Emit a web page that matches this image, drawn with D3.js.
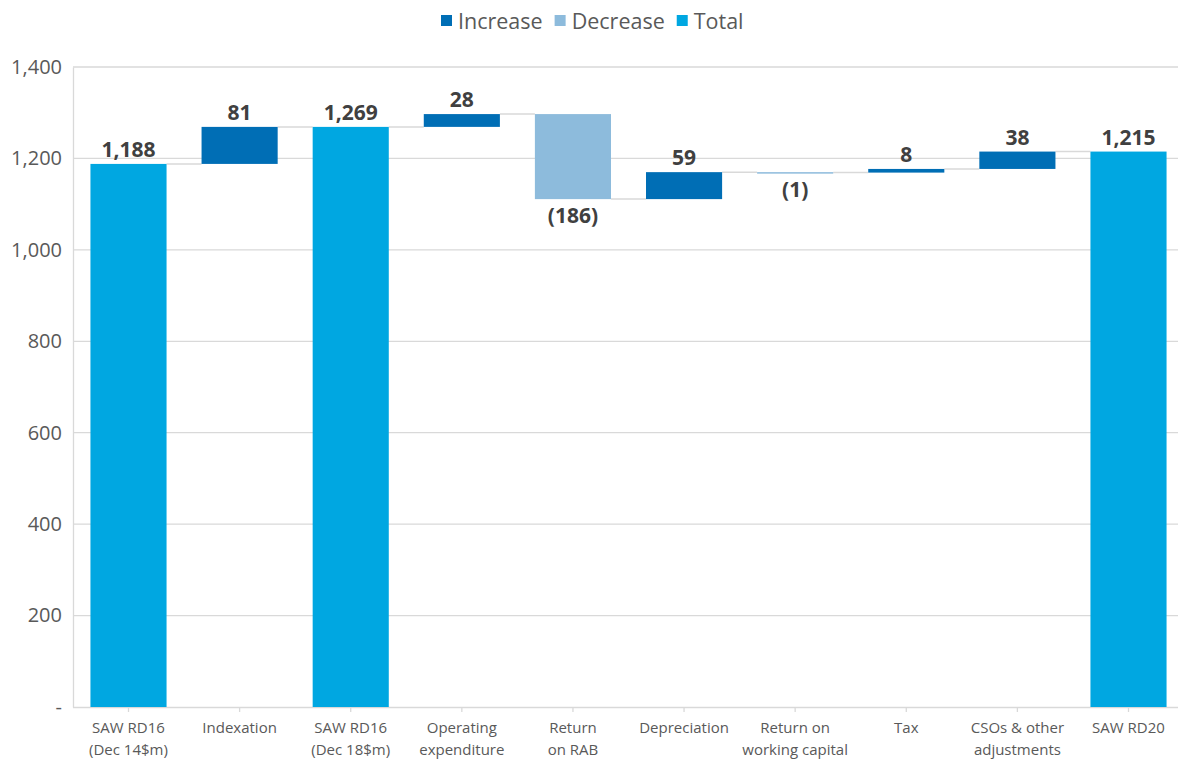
<!DOCTYPE html>
<html><head><meta charset="utf-8">
<script src="https://cdn.jsdelivr.net/npm/d3@7"></script>
<style>body{margin:0;background:#fff;} svg{display:block;font-family:"Open Sans",Lato,sans-serif;}</style>
</head><body><svg id="c" width="1178" height="761"></svg>
<script>
const categories = [["SAW RD16","(Dec 14$m)"],["Indexation"],["SAW RD16","(Dec 18$m)"],["Operating","expenditure"],["Return","on RAB"],["Depreciation"],["Return on","working capital"],["Tax"],["CSOs & other","adjustments"],["SAW RD20"]];
const values = [1188, 81, 1269, 28, -186, 59, -1, 8, 38, 1215];
const kinds = ["total","inc","total","inc","dec","inc","dec","inc","inc","total"];
const yTicks = [0,200,400,600,800,1000,1200,1400];
const legendItems = [["Increase","inc"],["Decrease","dec"],["Total","total"]];
const colors = {inc:"#006EB5", dec:"#8DBBDC", total:"#00A7E1"};

// compute waterfall spans
let run = 0;
const bars = values.map((v,i)=>{
  let lo, hi;
  if (kinds[i]==="total"){ lo=0; hi=v; run=v; }
  else { const s=run; run=run+v; lo=Math.min(s,run); hi=Math.max(s,run); }
  return {i, v, kind:kinds[i], lo, hi, end:run};
});

const svg = d3.select("#c");
const x = d3.scaleBand().domain(d3.range(categories.length)).range([73,1184]).paddingInner(0.315).paddingOuter(0.157);
const y = d3.scaleLinear().domain([0,1400]).range([707,67]);

// gridlines
svg.append("g").selectAll("line").data(yTicks.filter(d=>d>0)).join("line")
  .attr("x1",73).attr("x2",1178).attr("y1",d=>y(d)).attr("y2",d=>y(d))
  .attr("stroke","#d9d9d9").attr("stroke-width",1.3);

// y axis
const yAxis = d3.axisLeft(y).tickValues(yTicks).tickSize(0).tickPadding(11)
  .tickFormat(d=> d===0 ? "-" : d3.format(",")(d));
const gy = svg.append("g").attr("transform","translate(73,0)").call(yAxis);
gy.select(".domain").attr("stroke","#d9d9d9").attr("stroke-width",1.3);
gy.selectAll("text").attr("font-size",20).attr("fill","#595959").attr("font-family","'Open Sans',Lato,sans-serif");

// x axis
const xAxis = d3.axisBottom(x).tickSize(5).tickFormat("");
const gx = svg.append("g").attr("transform","translate(0,707)").call(xAxis);
gx.select(".domain").attr("stroke","#d9d9d9").attr("stroke-width",1.3).attr("d","M73,0.5H1178");
gx.selectAll(".tick line").attr("stroke","#d9d9d9").attr("stroke-width",1.3);

// x labels
const xl = svg.append("g").selectAll("text").data(categories).join("text")
  .attr("x",(d,i)=>x(i)+x.bandwidth()/2).attr("y",733)
  .attr("text-anchor","middle").attr("font-size",15).attr("fill","#595959");
xl.each(function(d){
  const t=d3.select(this);
  d.forEach((s,k)=>t.append("tspan").attr("x",t.attr("x")).attr("dy",k===0?0:21.5).text(s));
});

// connectors
svg.append("g").selectAll("line").data(bars.slice(0,-1)).join("line")
  .attr("x1",d=>x(d.i)+x.bandwidth()).attr("x2",d=>x(d.i+1))
  .attr("y1",d=>y(d.end)).attr("y2",d=>y(d.end))
  .attr("stroke","#d9d9d9").attr("stroke-width",1.5);

// bars
svg.append("g").selectAll("rect").data(bars).join("rect")
  .attr("x",d=>x(d.i)).attr("width",x.bandwidth())
  .attr("y",d=>y(d.hi)).attr("height",d=>Math.max(1.5,y(d.lo)-y(d.hi)))
  .attr("fill",d=>colors[d.kind]);

// value labels
const fmt = d3.format(",");
svg.append("g").selectAll("text").data(bars).join("text")
  .attr("x",d=>x(d.i)+x.bandwidth()/2)
  .attr("y",d=> d.v<0 ? y(d.lo)+24 : y(d.hi)-7)
  .attr("text-anchor","middle").attr("font-size",21).attr("font-weight","bold").attr("fill","#404040")
  .text(d=> d.v<0 ? "("+fmt(-d.v)+")" : fmt(d.v));

// legend
const lg = svg.append("g");
let lx = 441;
legendItems.forEach(([name,k])=>{
  lg.append("rect").attr("x",lx).attr("y",15).attr("width",11).attr("height",11).attr("fill",colors[k]);
  const t = lg.append("text").attr("x",lx+17).attr("y",29).attr("font-size",21.5).attr("fill","#595959").text(name);
  lx += 17 + t.node().getComputedTextLength() + 12;
});
</script></body></html>
